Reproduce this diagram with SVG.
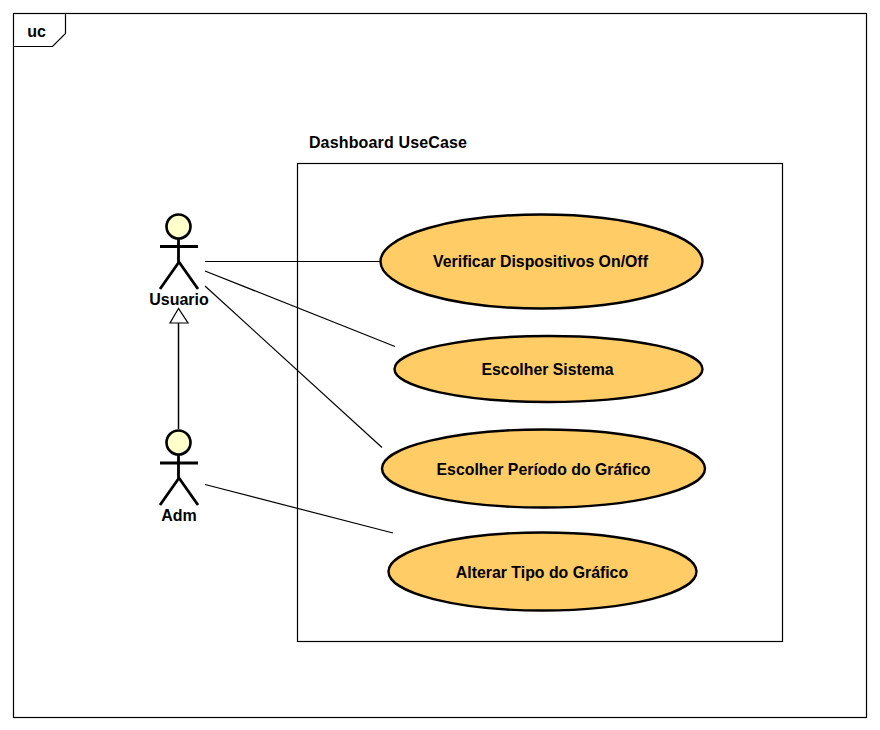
<svg xmlns="http://www.w3.org/2000/svg" width="880" height="730" viewBox="0 0 880 730">
<style>
text{font-family:"Liberation Sans",Arial,sans-serif;font-size:16px;font-weight:bold;fill:#000;text-anchor:middle}
.uc{fill:#FFCC66;stroke:#000;stroke-width:2.4}
.uct{font-size:15.85px}
.head{fill:#FFFFCC;stroke:#000;stroke-width:2.6}
.body{fill:none;stroke:#000;stroke-width:2.8}
.ln{fill:none;stroke:#000;stroke-width:1.2}
</style>
<rect width="880" height="730" fill="#fff"/>
<g id="frame">
<rect class="ln" x="13.500" y="13.500" width="853" height="704"/>
<path class="ln" d="M13.500 46.500H52.500L65.500 33.500V13.500"/>
<text x="36.500" y="37">uc</text>
</g>
<g id="boundary">
<rect class="ln" x="297.500" y="163.500" width="485" height="478"/>
<text x="388" y="148" style="letter-spacing:.15px">Dashboard UseCase</text>
</g>
<g id="connectors">
<path class="ln" d="M205 261.500H380"/>
<path class="ln" d="M205 271L395 346.500"/>
<path class="ln" d="M205 286L382 447.500"/>
<path class="ln" d="M205 484.500L393 533"/>
<path class="ln" style="stroke-width:1.5" d="M178.500 429V323"/>
<path class="ln" d="M178.500 308.500L170 323H188Z" fill="#fff"/>
</g>
<g id="usuario">
<circle class="head" cx="178.500" cy="226.500" r="12"/>
<path class="body" d="M178.500 239V262M160 246.500H198M179 262L160 289M179 262L198 289"/>
<text x="179" y="305">Usuario</text>
</g>
<g id="adm">
<circle class="head" cx="178.500" cy="442.500" r="12"/>
<path class="body" d="M178.500 455V478M160 463H198M179 478L160 505M179 478L198 505"/>
<text x="179" y="521">Adm</text>
</g>
<g id="uc1">
<ellipse class="uc" cx="541.500" cy="261.500" rx="161" ry="47"/>
<text class="uct" x="540.500" y="267">Verificar Dispositivos On/Off</text>
</g>
<g id="uc2">
<ellipse class="uc" cx="548.500" cy="369" rx="154" ry="33"/>
<text class="uct" x="547.500" y="375">Escolher Sistema</text>
</g>
<g id="uc3">
<ellipse class="uc" cx="543.500" cy="468.500" rx="161.500" ry="39"/>
<text class="uct" x="543.500" y="475">Escolher Período do Gráfico</text>
</g>
<g id="uc4">
<ellipse class="uc" cx="542.500" cy="571.500" rx="154" ry="39"/>
<text class="uct" x="542" y="578">Alterar Tipo do Gráfico</text>
</g>
</svg>
